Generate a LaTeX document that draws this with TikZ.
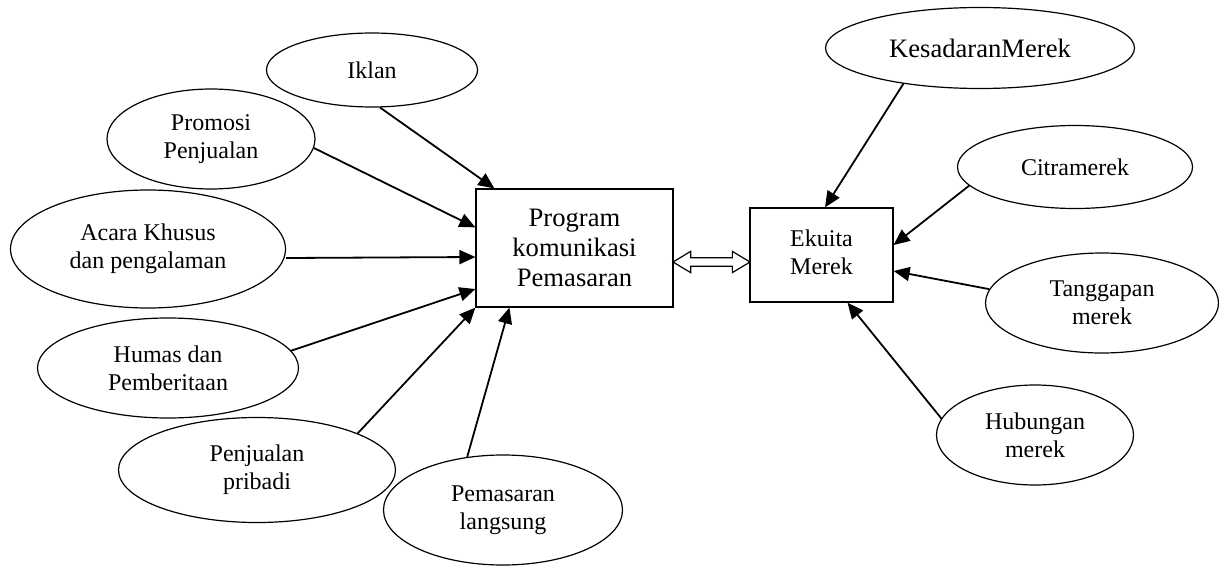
\documentclass[tikz,border=0pt]{standalone}
\usepackage{fontspec}
\setmainfont{Liberation Serif}
\usetikzlibrary{arrows.meta,shapes.geometric,shapes.arrows}
\tikzset{
	oval/.style={draw, ellipse, line width=0.6pt, inner sep=0pt, align=center, font=\fontsize{12}{13.8}\selectfont},
	kotak/.style={draw, rectangle, line width=0.6pt, inner sep=0pt, align=center},
	arr/.style={line width=0.9pt, -{Triangle[length=8pt,width=7pt]}},
	dblarr/.style={draw, double arrow, line width=0.6pt, inner xsep=0pt, inner ysep=1.8pt, minimum height=38.5pt, double arrow head extend=3.2pt, double arrow tip angle=62}
}
\begin{document}
\begin{tikzpicture}[x=0.5pt, y=-0.5pt]
			\useasboundingbox (0,0) rectangle (1219,567);
			% kotak tengah
			\node[kotak, minimum width=98.5pt, minimum height=59pt, font=\fontsize{13.3}{15}\selectfont] (prog) at (574.5,248) {Program\\komunikasi\\Pemasaran};
			\node[kotak, minimum width=71.5pt, minimum height=47pt, font=\fontsize{12}{13.8}\selectfont] (eku) at (821.5,255) {\raisebox{3pt}{\begin{tabular}{@{}c@{}}Ekuita\\Merek\end{tabular}}};
			% elemen komunikasi
			\node[oval, minimum width=105.5pt, minimum height=37pt] (iklan) at (372,70) {Iklan};
			\node[oval, minimum width=104pt, minimum height=50pt] (promosi) at (211,139) {Promosi\\Penjualan};
			\node[oval, minimum width=137.5pt, minimum height=59pt] (acara) at (148,249) {Acara Khusus\\dan pengalaman};
			\node[oval, minimum width=130.5pt, minimum height=50pt] (humas) at (168,368) {Humas dan\\Pemberitaan};
			\node[oval, minimum width=138.5pt, minimum height=52.5pt] (pribadi) at (257,470) {Penjualan\\pribadi};
			\node[oval, minimum width=119.5pt, minimum height=55pt] (langsung) at (503,510) {Pemasaran\\langsung};
			% elemen ekuitas
			\node[oval, minimum width=154.5pt, minimum height=40.5pt, font=\fontsize{13.3}{15}\selectfont] (kesadaran) at (980,48) {KesadaranMerek};
			\node[oval, minimum width=117.5pt, minimum height=41.5pt] (citra) at (1075,167) {Citramerek};
			\node[oval, minimum width=116.5pt, minimum height=50pt] (tanggapan) at (1102,303) {Tanggapan\\merek};
			\node[oval, minimum width=98.5pt, minimum height=50pt] (hubungan) at (1035,435) {Hubungan\\merek};
			% titik ujung panah
			\coordinate (p1) at ([xshift=9.5pt]prog.north west);
			\coordinate (p2) at ([yshift=-19.5pt]prog.north west);
			\coordinate (a0) at ([yshift=-4.5pt]acara.east);
			\coordinate (p3) at ([yshift=-4.5pt]prog.west);
			\coordinate (p4) at ([yshift=-20.5pt]prog.west);
			\coordinate (p6) at ([xshift=17pt]prog.south west);
			\coordinate (e1) at ([xshift=1.75pt]eku.north);
			\coordinate (e2) at ([yshift=5pt]eku.east);
			\coordinate (e3) at ([yshift=-8pt]eku.east);
			\coordinate (e4) at ([xshift=13pt]eku.south);
			% panah
			\foreach \a/\b in {iklan.-78/p1, promosi.-5/p2, a0/p3, humas.8/p4, pribadi.20/prog.south west, langsung.124/p6}
				\draw[arr] (\a) -- (\b);
			\foreach \a/\b in {kesadaran.205/e1, citra.190/e2, tanggapan.173/e3, hubungan.170/e4}
				\draw[arr] (\a) -- (\b);
			\path ([yshift=-7pt]prog.east) -- ([yshift=-3.5pt]eku.west) node[midway, dblarr] (link) {};
		\end{tikzpicture}
\end{document}
